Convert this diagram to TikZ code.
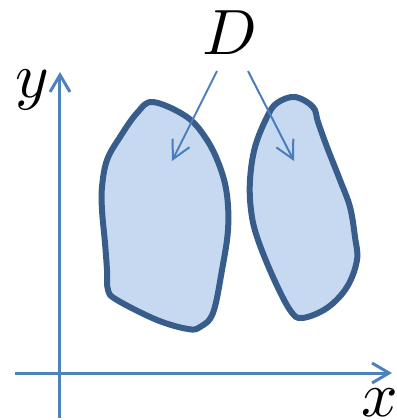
\documentclass[tikz,border=0pt]{standalone}
\usepackage{tikz}
\usetikzlibrary{arrows.meta,positioning}
\usepackage{xcolor}
\definecolor{axisblue}{HTML}{4F81BD}
\definecolor{arrowblue}{HTML}{4A7EBB}
\definecolor{regionfill}{HTML}{C6D9F1}
\definecolor{regionline}{HTML}{385D8A}

\begin{document}
\begin{tikzpicture}[
  x=0.5pt, y=-0.5pt,
  lab/.style={inner sep=0pt, font=\normalsize, scale=3.2},
  axis/.style={-{Straight Barb[length=8.5pt, width=10pt]}, axisblue, line width=1.5pt},
  darr/.style={-{Straight Barb[length=9pt, width=9.5pt]}, arrowblue, line width=1pt},
  region/.style={fill=regionfill, draw=regionline, line width=3pt},
]
  \useasboundingbox (0,0) rectangle (397,420);

  % Axes
  \coordinate (xs) at (15,373);
  \coordinate (xe) at (392,373);
  \coordinate (ys) at (60,418);
  \coordinate (ye) at (60,72);
  \draw[axis] (xs) -- (xe);
  \draw[axis] (ys) -- (ye);
  \node[lab] (xl) at (380,403) {$x$};
  \node[lab] (yl) at (32,90) {$y$};

  % Regions
  \draw[region] plot[smooth cycle, tension=0.6] coordinates {
    (153,102) (187,117) (207,140) (220,167) (227,195) (228,230) (222,270)
    (213,313) (200,327) (188,329) (157,320) (117,300) (108,290) (107,270)
    (105,243) (102,210) (102,187) (107,160) (120,137) (137,113)};
  \draw[region] plot[smooth cycle, tension=0.6] coordinates {
    (295,97) (313,107) (318,122) (327,147) (340,180) (350,207) (355,237)
    (357,260) (347,287) (327,308) (302,318) (290,310) (273,277) (257,237)
    (251,210) (250,180) (255,147) (267,117) (277,103)};

  % Label D
  \node[lab] (D) at (230,33) {$D$};
  \coordinate (dl) at (217,71);
  \coordinate (dr) at (248,71);
  \coordinate (tl) at (172,161);
  \coordinate (tr) at (294,161);
  \draw[darr] (dl) -- (tl);
  \draw[darr] (dr) -- (tr);
\end{tikzpicture}
\end{document}
